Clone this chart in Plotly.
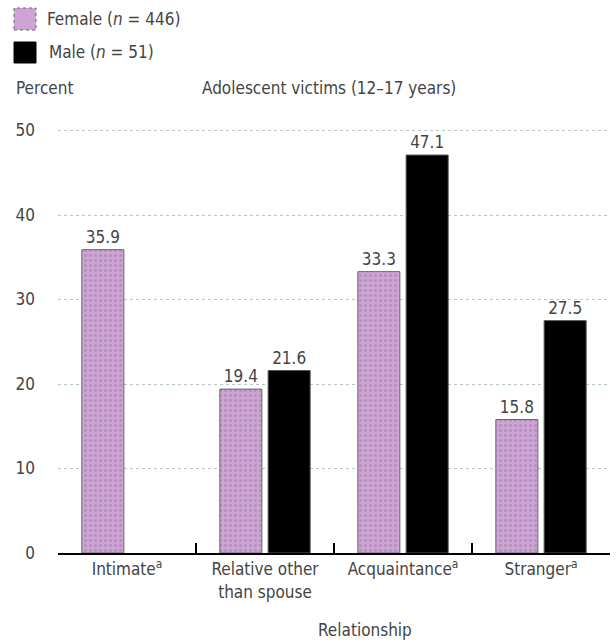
import plotly.graph_objects as go

# Relationship of offender to adolescent victims (12-17 years)
categories = ["Intimate<sup>a</sup>", "Relative other<br>than spouse",
              "Acquaintance<sup>a</sup>", "Stranger<sup>a</sup>"]
female_pct = [35.9, 19.4, 33.3, 15.8]
male_pct = [None, 21.6, 47.1, 27.5]
y_ticks = [0, 10, 20, 30, 40, 50]

FONT = "DejaVu Sans Condensed, Liberation Sans Narrow, sans-serif"
FS = 17
TXT = "#444444"
FEMALE_BG = "#cfa3d6"

# plot area in pixels: x 58..610, y 128..553 (range 0..50.3)
L, R, T, B = 58, 610, 128, 553
W, H = R - L, B - T


def px(x):
    return (x - L) / W


def py(y):
    return (B - y) / H


fig = go.Figure()
fig.add_trace(go.Bar(
    x=categories, y=female_pct, name="Female",
    marker=dict(color=FEMALE_BG,
                line=dict(color="#666666", width=1),
                pattern=dict(shape=".", fgcolor="#8f8098", bgcolor=FEMALE_BG,
                             size=5, solidity=0.3)),
    texttemplate="%{y:.1f}", textposition="outside", cliponaxis=False,
    textfont=dict(family=FONT, size=FS, color=TXT),
))
fig.add_trace(go.Bar(
    x=categories, y=male_pct, name="Male",
    marker=dict(color="#000000", line=dict(color="#555555", width=1)),
    texttemplate="%{y:.1f}", textposition="outside", cliponaxis=False,
    textfont=dict(family=FONT, size=FS, color=TXT),
))

annotations = [
    dict(text="Percent", x=px(14), y=py(88), xanchor="left", yanchor="middle"),
    dict(text="Adolescent victims (12\u201317 years)", x=px(200), y=py(88),
         xanchor="left", yanchor="middle"),
    dict(text="Relationship", x=px(365), y=py(630), xanchor="center", yanchor="middle"),
    dict(text="Female (<i>n</i> = 446)", x=px(45), y=py(19), xanchor="left", yanchor="middle"),
    dict(text="Male (<i>n</i> = 51)", x=px(47), y=py(52), xanchor="left", yanchor="middle"),
]
for a in annotations:
    a.update(xref="paper", yref="paper", showarrow=False,
             font=dict(family=FONT, size=FS, color=TXT))

shapes = [
    dict(type="rect", xref="paper", yref="paper",
         x0=px(14), x1=px(36), y0=py(30), y1=py(8),
         fillcolor=FEMALE_BG, line=dict(color="#666666", width=1, dash="dot")),
    dict(type="rect", xref="paper", yref="paper",
         x0=px(14), x1=px(36), y0=py(63), y1=py(42),
         fillcolor="#000000", line=dict(color="#000000", width=1)),
]

fig.update_layout(
    width=616, height=644,
    margin=dict(l=L, r=616 - R, t=T, b=644 - B),
    paper_bgcolor="white", plot_bgcolor="white",
    showlegend=False,
    barmode="group", bargap=0.30, bargroupgap=0.13,
    font=dict(family=FONT, size=FS, color=TXT),
    annotations=annotations, shapes=shapes,
    xaxis=dict(
        showline=True, linecolor="#000000", linewidth=2,
        ticks="inside", tickson="boundaries", ticklen=10, tickwidth=2,
        tickcolor="#000000", showgrid=False,
        tickfont=dict(family=FONT, size=FS, color=TXT),
    ),
    yaxis=dict(
        range=[0, 50.3], tickvals=y_ticks, showline=False, zeroline=False,
        showgrid=True, gridcolor="#b7c6ca", gridwidth=1, griddash="dot",
        ticks="", ticklabelstandoff=22,
        tickfont=dict(family=FONT, size=FS, color=TXT),
    ),
)

fig.write_html("out.html")
